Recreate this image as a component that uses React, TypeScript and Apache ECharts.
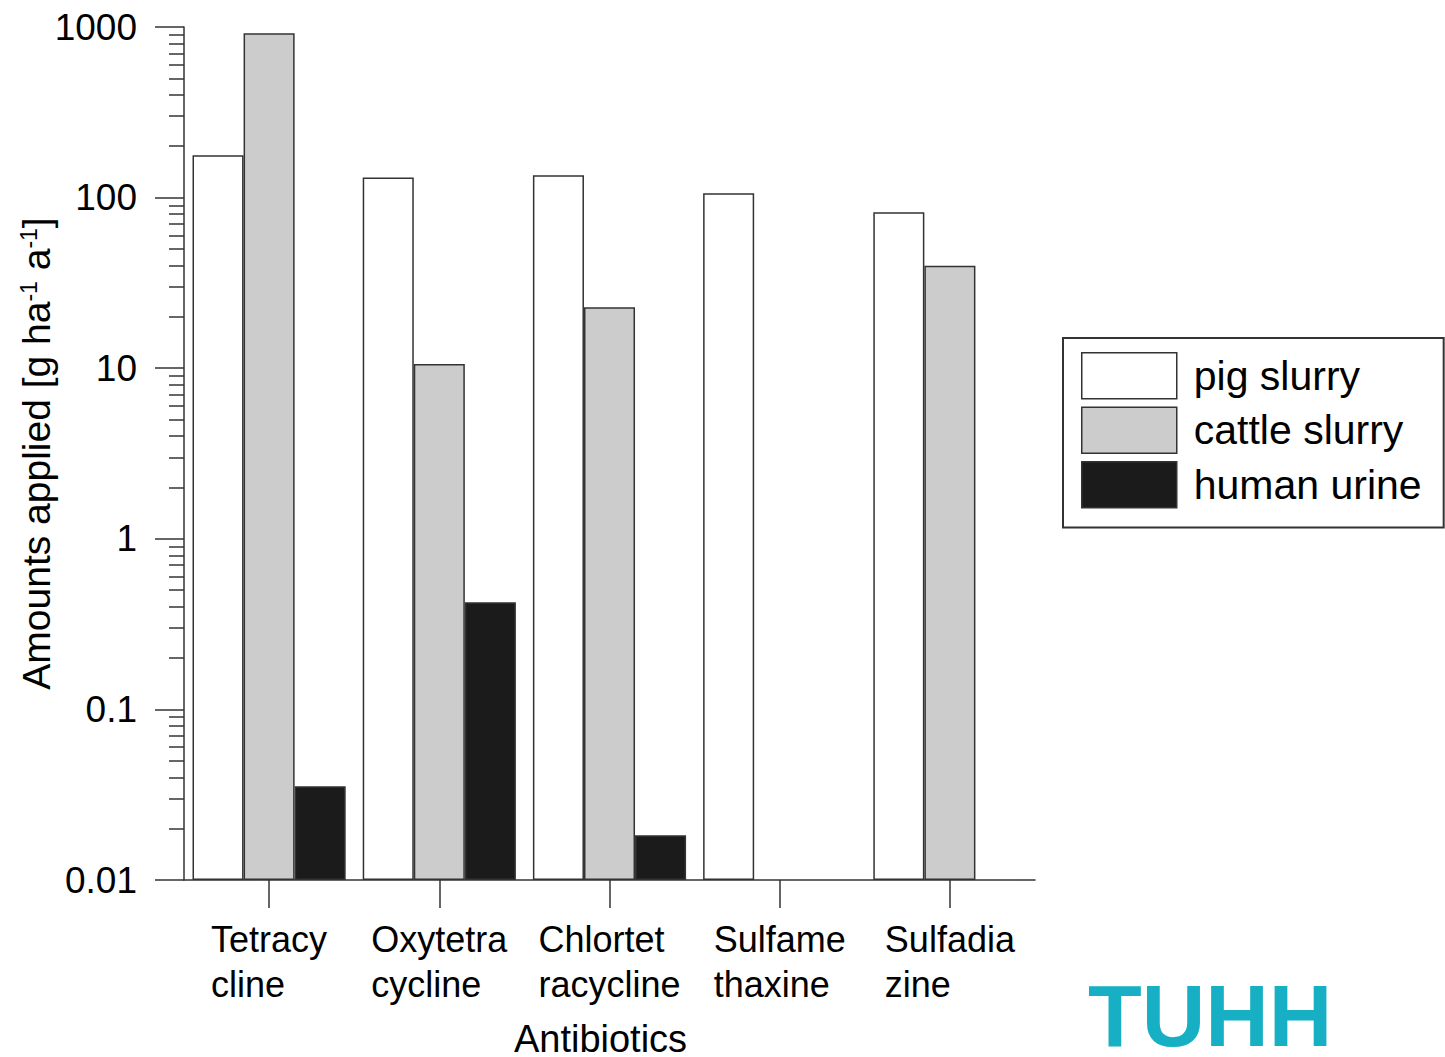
import React, { useEffect, useRef } from "react";
import * as echarts from "echarts";

const categories = ["Tetracy\ncline", "Oxytetra\ncycline", "Chlortet\nracycline", "Sulfame\nthaxine", "Sulfadia\nzine"];
const seriesNames = ["pig slurry", "cattle slurry", "human urine"];
const pigSlurry: (number | string)[] = [177, 131, 135, 106, 82];
const cattleSlurry: (number | string)[] = [918, 10.6, 22.8, "-", 39.9];
const humanUrine: (number | string)[] = [0.0354, 0.424, 0.0183, "-", "-"];
const colors = ["#ffffff", "#cccccc", "#1b1b1b"];

const FONT = 'Arial, "Liberation Sans", sans-serif';

export default function App() {
  const ref = useRef<HTMLDivElement>(null);
  useEffect(() => {
    if (!ref.current) return;
    const chart = echarts.init(ref.current, undefined, { renderer: "svg" });
    const data = [pigSlurry, cattleSlurry, humanUrine];
    chart.setOption({
      animation: false,
      backgroundColor: "#ffffff",
      textStyle: { fontFamily: FONT },
      grid: { left: 184, right: 410, top: 27, bottom: 177, outerBoundsMode: "none", containLabel: false },
      legend: {
        orient: "vertical",
        left: 1063,
        top: 338,
        padding: [14, 22, 19, 18],
        itemWidth: 95,
        itemHeight: 46,
        itemGap: 7,
        borderColor: "#333",
        borderWidth: 2,
        icon: "rect",
        itemStyle: { borderColor: "#333", borderWidth: 1.5 },
        textStyle: { fontSize: 41, lineHeight: 46, color: "#000", fontFamily: FONT, padding: [0, 0, 0, 12] },
        data: seriesNames,
      },
      xAxis: {
        type: "category",
        data: categories,
        name: "Antibiotics",
        nameLocation: "middle",
        nameGap: 144,
        nameMoveOverlap: false,
        nameTextStyle: { fontSize: 38, lineHeight: 30, color: "#000", fontFamily: FONT, padding: [0, 18, 0, 0] },
        axisLine: { show: true, lineStyle: { color: "#333", width: 1.5 } },
        axisTick: { show: true, alignWithLabel: true, length: 28, lineStyle: { color: "#333", width: 1.5 } },
        axisLabel: {
          interval: 0,
          margin: 37,
          formatter: (v: string) => v.split("\n").map((s) => `{l|${s}}`).join("\n"),
          rich: {
            l: { fontSize: 36, lineHeight: 45, align: "left", color: "#000", fontFamily: FONT },
          },
        },
        splitLine: { show: false },
      },
      yAxis: {
        type: "log",
        logBase: 10,
        min: 0.01,
        max: 1000,
        startValue: 0.01,
        name: "Amounts applied [g ha{s|-1} a{s|-1}]",
        nameLocation: "middle",
        nameGap: 128,
        nameMoveOverlap: false,
        nameTextStyle: {
          fontSize: 39,
          lineHeight: 39,
          color: "#000",
          fontFamily: FONT,
          rich: { s: { fontSize: 23, lineHeight: 23, verticalAlign: "top", color: "#000", fontFamily: FONT } },
        },
        axisLine: { show: true, lineStyle: { color: "#333", width: 1.5 } },
        axisTick: { show: true, length: 29, lineStyle: { color: "#333", width: 1.5 } },
        minorTick: { show: true, splitNumber: 9, length: 15, lineStyle: { color: "#333", width: 1.5 } },
        axisLabel: {
          fontSize: 37,
          color: "#000",
          margin: 47,
          fontFamily: FONT,
          formatter: (v: number) => String(v),
        },
        splitLine: { show: false },
        minorSplitLine: { show: false },
      },
      series: seriesNames.map((name, i) => ({
        name,
        type: "bar",
        data: data[i],
        barGap: "0%",
        barCategoryGap: "10%",
        itemStyle: { color: colors[i], borderColor: "#333", borderWidth: 1.5 },
      })),
      graphic: [
        {
          type: "text",
          left: 1088,
          top: 971,
          style: { text: "TUHH", fontSize: 88, lineHeight: 72, fontWeight: "bold", fill: "#16afc4", fontFamily: FONT },
        },
      ],
    });
    return () => chart.dispose();
  }, []);
  return <div ref={ref} style={{ position: "absolute", left: 0, top: 0, width: 1445, height: 1057 }} />;
}
